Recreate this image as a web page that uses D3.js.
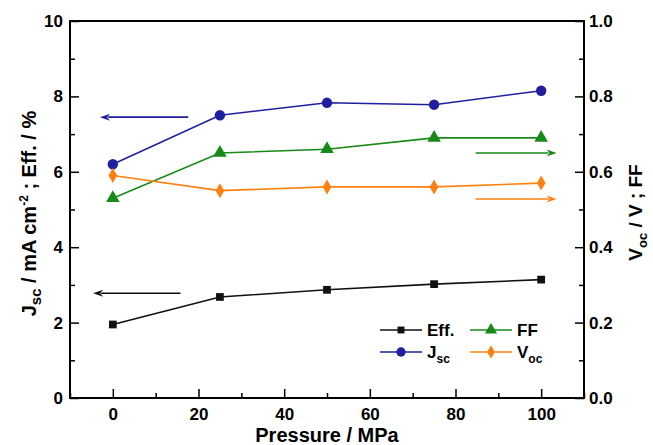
<!DOCTYPE html>
<html>
<head>
<meta charset="utf-8">
<script src="https://cdn.jsdelivr.net/npm/d3@7"></script>
<style>
body { margin: 0; background: #fff; }
text { font-family: "Liberation Sans", Arial, sans-serif; font-weight: bold; }
</style>
</head>
<body>
<svg id="chart" width="653" height="445"></svg>
<script>
var pressure = [0, 25, 50, 75, 100];
var effValues = [1.95, 2.68, 2.87, 3.02, 3.14];
var jscValues = [6.2, 7.5, 7.83, 7.78, 8.15];
var ffValues = [0.53, 0.65, 0.66, 0.69, 0.69];
var vocValues = [0.59, 0.55, 0.56, 0.56, 0.57];

var leftTicks = [0, 2, 4, 6, 8, 10];
var rightTicks = [0, 0.2, 0.4, 0.6, 0.8, 1.0];
var xTicks = [0, 20, 40, 60, 80, 100];

var BLACK = "#111111", BLUE = "#1f1fa0", GREEN = "#178a17", ORANGE = "#ff8010";

var margin = { top: 21, right: 69, bottom: 47, left: 70 },
    width = 653 - margin.left - margin.right,
    height = 445 - margin.top - margin.bottom;

var svg = d3.select("#chart")
    .append("g")
    .attr("transform", "translate(" + margin.left + "," + margin.top + ")");

var x = d3.scaleLinear().domain([-10, 110]).range([0, width]);
var yL = d3.scaleLinear().domain([0, 10]).range([height, 0]);
var yR = d3.scaleLinear().domain([0, 1]).range([height, 0]);

// frame
svg.append("rect")
    .attr("width", width).attr("height", height)
    .attr("fill", "none").attr("stroke", "#000").attr("stroke-width", 2);

function styleAxis(g) {
    g.select(".domain").remove();
    g.selectAll("line").attr("stroke", "#000").attr("stroke-width", 1.5);
    g.selectAll("text").attr("font-size", 17).attr("fill", "#000");
}

var xAxis = svg.append("g")
    .attr("transform", "translate(0," + height + ")")
    .call(d3.axisBottom(x).tickValues(d3.range(-10, 111, 10))
        .tickSize(-9).tickPadding(10)
        .tickFormat(function(d) { return xTicks.indexOf(d) >= 0 ? d : ""; }));
styleAxis(xAxis);
xAxis.selectAll(".tick line").attr("y2", function(d) { return xTicks.indexOf(d) >= 0 ? -9 : -5; });

var lAxis = svg.append("g")
    .call(d3.axisLeft(yL).tickValues(d3.range(0, 11, 1))
        .tickSize(-9).tickPadding(7)
        .tickFormat(function(d) { return leftTicks.indexOf(d) >= 0 ? d : ""; }));
styleAxis(lAxis);
lAxis.selectAll(".tick line").attr("x2", function(d) { return leftTicks.indexOf(d) >= 0 ? 9 : 5; });

var rAxis = svg.append("g")
    .attr("transform", "translate(" + width + ",0)")
    .call(d3.axisRight(yR).tickValues(d3.range(0, 11, 1).map(function(i) { return i / 10; }))
        .tickSize(-9).tickPadding(5)
        .tickFormat(function(d, i) { return i % 2 === 0 ? d3.format(".1f")(d) : ""; }));
styleAxis(rAxis);
rAxis.selectAll(".tick line").attr("x2", function(d, i) { return i % 2 === 0 ? -9 : -5; });

// axis titles
svg.append("text")
    .attr("text-anchor", "middle").attr("font-size", 20)
    .attr("x", width / 2).attr("y", height + 44)
    .text("Pressure / MPa");

var lt = svg.append("text")
    .attr("text-anchor", "middle").attr("font-size", 20)
    .attr("transform", "translate(-34," + (height / 2 + 4) + ") rotate(-90)");
lt.append("tspan").text("J");
lt.append("tspan").attr("font-size", 15).attr("dy", 5).text("sc");
lt.append("tspan").attr("dy", -5).text(" / mA cm");
lt.append("tspan").attr("font-size", 12).attr("dy", -8).text("-2");
lt.append("tspan").attr("dy", 8).text(" ; Eff. / %");

var rt = svg.append("text")
    .attr("text-anchor", "middle").attr("font-size", 19)
    .attr("transform", "translate(" + (width + 58) + "," + (height / 2 + 3) + ") rotate(-90)");
rt.append("tspan").text("V");
rt.append("tspan").attr("font-size", 13).attr("dy", 5).text("oc");
rt.append("tspan").attr("dy", -5).text(" / V ; FF");

// series
var series = [
    { name: "Eff.", values: effValues, y: yL, color: BLACK, symbol: d3.symbolSquare, size: 60 },
    { name: "Jsc", values: jscValues, y: yL, color: BLUE, symbol: d3.symbolCircle, size: 85 },
    { name: "FF", values: ffValues, y: yR, color: GREEN, symbol: d3.symbolTriangle, size: 80 },
    { name: "Voc", values: vocValues, y: yR, color: ORANGE, symbol: d3.symbolDiamond, size: 65 }
];

series.forEach(function(s) {
    var line = d3.line()
        .x(function(d, i) { return x(pressure[i]); })
        .y(function(d) { return s.y(d); });
    svg.append("path")
        .datum(s.values)
        .attr("d", line)
        .attr("fill", "none").attr("stroke", s.color).attr("stroke-width", 1.6);
    svg.selectAll(null)
        .data(s.values)
        .enter().append("path")
        .attr("d", d3.symbol().type(s.symbol).size(s.size))
        .attr("transform", function(d, i) { return "translate(" + x(pressure[i]) + "," + s.y(d) + ")"; })
        .attr("fill", s.color);
});

// direction arrows
var arrows = [
    { x1: 17.6, x2: -3, y: 7.45, scale: yL, color: BLUE },
    { x1: 15.8, x2: -4.6, y: 2.78, scale: yL, color: BLACK },
    { x1: 84.7, x2: 103.6, y: 0.65, scale: yR, color: GREEN },
    { x1: 84.7, x2: 103.6, y: 0.528, scale: yR, color: ORANGE }
];
arrows.forEach(function(a) {
    var px1 = x(a.x1), px2 = x(a.x2), py = a.scale(a.y);
    var dir = px2 > px1 ? 1 : -1;
    svg.append("line")
        .attr("x1", px1).attr("x2", px2 - dir * 8)
        .attr("y1", py).attr("y2", py)
        .attr("stroke", a.color).attr("stroke-width", 1.6);
    svg.append("path")
        .attr("d", "M" + px2 + "," + py + "L" + (px2 - dir * 10) + "," + (py - 3.5) +
            "L" + (px2 - dir * 7) + "," + py + "L" + (px2 - dir * 10) + "," + (py + 3.5) + "Z")
        .attr("fill", a.color);
});

// legend
var legendItems = [
    { s: series[0], x: 310, y: 309, label: "Eff." },
    { s: series[2], x: 400, y: 309, label: "FF" },
    { s: series[1], x: 310, y: 331, label: "J", sub: "sc" },
    { s: series[3], x: 400, y: 331, label: "V", sub: "oc" }
];
legendItems.forEach(function(it) {
    var g = svg.append("g").attr("transform", "translate(" + it.x + "," + it.y + ")");
    g.append("line").attr("x1", 0).attr("x2", 42).attr("stroke", it.s.color).attr("stroke-width", 1.6);
    g.append("path")
        .attr("d", d3.symbol().type(it.s.symbol).size(it.s.size * 0.8))
        .attr("transform", "translate(21,0)")
        .attr("fill", it.s.color);
    var t = g.append("text").attr("x", 47).attr("y", 6).attr("font-size", 17).text(it.label);
    if (it.sub) t.append("tspan").attr("font-size", 12).attr("dy", 5).text(it.sub);
});
</script>
</body>
</html>
